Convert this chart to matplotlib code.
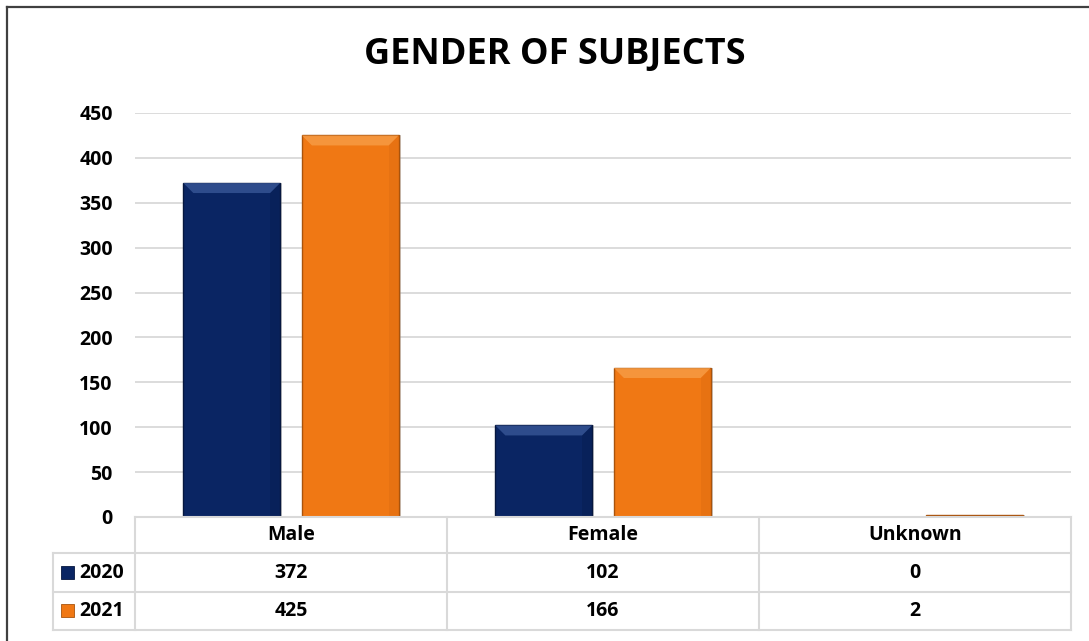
import matplotlib
matplotlib.use("Agg")
import matplotlib.pyplot as plt
from matplotlib.patches import Rectangle, Polygon
from matplotlib.lines import Line2D

categories = ["Male", "Female", "Unknown"]
series_names = ["2020", "2021"]
values_2020 = [372, 102, 0]
values_2021 = [425, 166, 2]
yticks = [0, 50, 100, 150, 200, 250, 300, 350, 400, 450]

colors = ["#0A2563", "#F07814"]
edge_colors = ["#06173F", "#A9530C"]
bevel_top = ["#3B5A9A", "#F8A04A"]
bevel_side = ["#071B4A", "#D9680F"]

W, H = 1089, 641
plt.rcParams['font.family'] = ['Open Sans', 'DejaVu Sans']
fig = plt.figure(figsize=(W / 100, H / 100), dpi=100)

def fx(px):
    return px / W

def fy(py):
    return 1 - py / H

# outer border (top and left visible)
fig.add_artist(Line2D([fx(7), fx(1089)], [fy(7), fy(7)], color="#404040", lw=1.6))
fig.add_artist(Line2D([fx(7), fx(7)], [fy(7), fy(641)], color="#404040", lw=1.6))

left_px, right_px, top_px, bottom_px = 135, 1071, 113, 517
ax = fig.add_axes([fx(left_px), fy(bottom_px), fx(right_px - left_px), (bottom_px - top_px) / H])
ax.set_xlim(-0.5, 2.5)
ax.set_ylim(0, 450)
ax.set_yticks(yticks)
ax.set_yticklabels([str(t) for t in yticks], fontsize=14, fontweight="bold")
ax.tick_params(axis="y", length=0, pad=16)
ax.set_xticks([])
for s in ax.spines.values():
    s.set_visible(False)
ax.grid(axis="y", color="#D9D9D9", lw=1.3)
ax.set_axisbelow(True)

x = list(range(len(categories)))
width = 0.31
offset = 0.19
bars_all = []
for i, vals in enumerate([values_2020, values_2021]):
    pos = [xi + (-offset if i == 0 else offset) for xi in x]
    ax.bar([p + 0.006 for p in pos], vals, width=width, color="#9a9a9a", alpha=0.5, zorder=2)
    bars = ax.bar(pos, vals, width=width, color=colors[i], edgecolor=edge_colors[i], lw=1.0, zorder=3)
    bars_all.append((i, bars))

# bevel on each bar (derived from bar geometry)
fig.canvas.draw()
inv = ax.transData.inverted()
for i, bars in bars_all:
    for b in bars:
        h = b.get_height()
        if h < 10:
            continue
        x0, x1 = b.get_x(), b.get_x() + b.get_width()
        px0, py1 = ax.transData.transform((x0, h))
        px1, py0 = ax.transData.transform((x1, 0))
        d = 10
        top = [(px0, py1), (px1, py1), (px1 - d, py1 - d), (px0 + d, py1 - d)]
        right = [(px1, py1), (px1, py0), (px1 - d, py0), (px1 - d, py1 - d)]
        ax.add_patch(Polygon([inv.transform(p) for p in right], closed=True,
                             facecolor=bevel_side[i], edgecolor="none", alpha=0.35, zorder=4))
        ax.add_patch(Polygon([inv.transform(p) for p in top], closed=True,
                             facecolor=bevel_top[i], edgecolor="none", alpha=0.75, zorder=4))

# title
fig.text(fx(555), fy(55), "GENDER OF SUBJECTS", ha="center", va="center",
         fontsize=26, fontweight="bold", color="black")

# data table
gc = "#D9D9D9"
row_y = [517, 553, 592, 630]
col_x = [135, 447, 759, 1071]
lab_left = 53
fig.add_artist(Line2D([fx(135), fx(1071)], [fy(517), fy(517)], color=gc, lw=1.5))
for yy in row_y[1:]:
    fig.add_artist(Line2D([fx(lab_left), fx(1071)], [fy(yy), fy(yy)], color=gc, lw=1.5))
for xx in col_x:
    fig.add_artist(Line2D([fx(xx), fx(xx)], [fy(517), fy(630)], color=gc, lw=1.5))
fig.add_artist(Line2D([fx(lab_left), fx(lab_left)], [fy(553), fy(630)], color=gc, lw=1.5))

for j, cat in enumerate(categories):
    cx = (col_x[j] + col_x[j + 1]) / 2
    fig.text(fx(cx), fy(535), cat, ha="center", va="center", fontsize=14, fontweight="bold")
    for i, vals in enumerate([values_2020, values_2021]):
        cy = (row_y[i + 1] + row_y[i + 2]) / 2
        fig.text(fx(cx), fy(cy), str(vals[j]), ha="center", va="center", fontsize=14, fontweight="bold")

for i, name in enumerate(series_names):
    cy = (row_y[i + 1] + row_y[i + 2]) / 2
    fig.add_artist(Rectangle((fx(61), fy(cy + 6)), fx(13), 13 / H, facecolor=colors[i],
                             edgecolor=edge_colors[i], lw=0.6, transform=fig.transFigure))
    fig.text(fx(79), fy(cy), name, ha="left", va="center", fontsize=14, fontweight="bold")

fig.savefig("out.png", dpi=100, facecolor="white")
